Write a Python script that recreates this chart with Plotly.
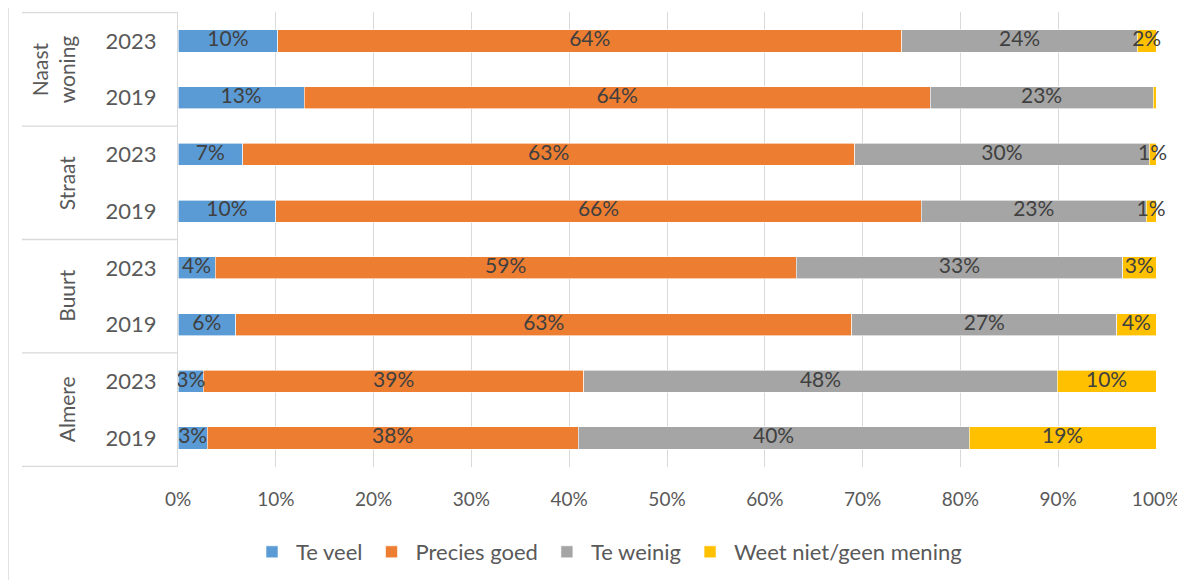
import plotly.graph_objects as go

# rows listed top to bottom
groups = ["Naast<br>woning", "Straat", "Buurt", "Almere"]
years = ["2023", "2019"]

series_names = ["Te veel", "Precies goed", "Te weinig", "Weet niet/geen mening"]
te_veel = [10.2, 12.9, 6.6, 10.0, 3.8, 5.9, 2.6, 3.0]
precies_goed = [63.8, 64.0, 62.6, 66.0, 59.4, 63.0, 38.9, 37.9]
te_weinig = [24.1, 22.8, 30.1, 23.0, 33.4, 27.1, 48.4, 40.0]
weet_niet = [1.9, 0.3, 0.7, 1.0, 3.4, 4.0, 10.1, 19.1]
colors = ["#5B9BD5", "#ED7D31", "#A5A5A5", "#FFC000"]

x_ticks = [0, 10, 20, 30, 40, 50, 60, 70, 80, 90, 100]

FONT = "Lato"
OFF = 8  # the page body adds an 8px margin
W, H = 1185 - OFF, 582 - OFF
L, R, T, B = 178 - OFF, 29, 12 - OFF, 115
plot_w = W - L - R
plot_h = H - T - B


def px_x(p):
    # page pixel -> paper fraction
    return (p - OFF - L) / plot_w


def px_y(p):
    return (H - B - (p - OFF)) / plot_h


rows = []
row_years = []
for g in groups:
    for yr in years:
        rows.append(g.replace("<br>", " ") + " " + yr)
        row_years.append(yr)

series = [te_veel, precies_goed, te_weinig, weet_niet]

fig = go.Figure()
for name, vals, col in zip(series_names, series, colors):
    fig.add_trace(
        go.Bar(
            y=rows,
            x=vals,
            name=name,
            orientation="h",
            marker=dict(color=col, line=dict(color="white", width=0.6)),
            hoverinfo="none",
        )
    )

# data labels centred on each segment
lab_x, lab_y, lab_t = [], [], []
for r in range(len(rows)):
    start = 0
    for vals in series:
        v = vals[r]
        if v >= 0.5:
            lab_x.append(start + v / 2)
            lab_y.append(rows[r])
            lab_t.append(f"{round(v)}%")
        start += v
fig.add_trace(
    go.Scatter(
        x=lab_x,
        y=lab_y,
        text=lab_t,
        mode="text",
        textposition="middle center",
        textfont=dict(family=FONT, size=21, color="#404040"),
        showlegend=False,
        cliponaxis=False,
        hoverinfo="none",
    )
)

# group labels and dividers on the left
shapes = []
annotations = []
for i, g in enumerate(groups):
    mid = i * len(years) + (len(years) - 1) / 2
    annotations.append(
        dict(
            text=g,
            x=px_x(81),
            xref="paper",
            y=mid,
            yref="y",
            xanchor="right",
            yanchor="middle",
            textangle=-90,
            showarrow=False,
            font=dict(family=FONT, size=21, color="#595959"),
        )
    )
for k in range(len(groups) + 1):
    yv = k * len(years) - 0.5
    shapes.append(
        dict(type="line", xref="paper", yref="y", x0=px_x(22), x1=px_x(177),
             y0=yv, y1=yv, line=dict(color="#D9D9D9", width=1.3))
    )
# chart frame (left edge)
shapes.append(
    dict(type="line", xref="paper", yref="paper", x0=px_x(8), x1=px_x(8),
         y0=px_y(580), y1=px_y(0), line=dict(color="#D9D9D9", width=1.5))
)

fig.update_layout(
    barmode="stack",
    bargap=0.61,
    width=W,
    height=H,
    margin=dict(l=L, r=R, t=T, b=B, autoexpand=False),
    plot_bgcolor="white",
    paper_bgcolor="white",
    font=dict(family=FONT, color="#595959"),
    showlegend=True,
    legend=dict(
        orientation="h",
        x=px_x(248),
        xanchor="left",
        y=px_y(552),
        yanchor="middle",
        font=dict(family=FONT, size=22, color="#595959"),
        itemwidth=38,
        traceorder="normal",
    ),
    shapes=shapes,
    annotations=annotations,
)
fig.update_xaxes(
    range=[0, 100],
    tickvals=x_ticks,
    ticktext=[f"{t}%" for t in x_ticks],
    showgrid=True,
    gridcolor="#D9D9D9",
    gridwidth=1.3,
    zeroline=False,
    ticks="",
    automargin=False,
    ticklabelstandoff=19,
    tickfont=dict(family=FONT, size=19, color="#595959"),
)
fig.update_yaxes(
    categoryorder="array",
    categoryarray=rows,
    autorange="reversed",
    tickvals=rows,
    ticktext=row_years,
    showline=True,
    linecolor="#D9D9D9",
    linewidth=1.3,
    ticks="",
    automargin=False,
    ticklabelstandoff=16,
    tickfont=dict(family=FONT, size=22, color="#595959"),
)

fig.write_html("out.html")
